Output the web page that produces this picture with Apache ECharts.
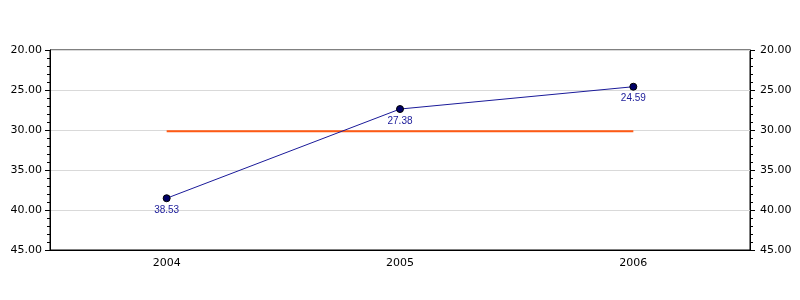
<!DOCTYPE html>
<html>
<head>
<meta charset="utf-8">
<script src="https://cdn.jsdelivr.net/npm/echarts@6/dist/echarts.min.js"></script>
<style>html,body{margin:0;padding:0;background:#fff}#c{width:800px;height:300px}</style>
</head>
<body>
<div id="c"></div>
<script>
const categories = ['2004', '2005', '2006'];
const values = [38.53, 27.38, 24.59];
const averageValues = [30.17, 30.17, 30.17];
const yMin = 20, yMax = 45, yStep = 5;

const chart = echarts.init(document.getElementById('c'), null, {renderer: 'canvas'});
const yAxisBase = {
  type: 'value', inverse: true, min: yMin, max: yMax, interval: yStep,
  axisLine: {show: true, lineStyle: {color: '#000', width: 1}},
  axisTick: {show: true, length: 5, lineStyle: {color: '#000'}},
  minorTick: {show: true, splitNumber: 5, length: 3, lineStyle: {color: '#000'}},
  axisLabel: {color: '#000', fontFamily: 'DejaVu Sans', fontSize: 11, formatter: v => v.toFixed(2)}
};
chart.setOption({
  animation: false,
  grid: {left: 50, right: 50, top: 50, bottom: 50, show: true, borderColor: '#000', borderWidth: 1},
  xAxis: {
    type: 'category', data: categories, boundaryGap: true,
    axisLine: {onZero: false, lineStyle: {color: '#000'}},
    axisTick: {alignWithLabel: true, length: 5, lineStyle: {color: '#000'}},
    axisLabel: {color: '#000', fontFamily: 'DejaVu Sans', fontSize: 11, margin: 8},
    splitLine: {show: false}
  },
  yAxis: [
    Object.assign({}, yAxisBase, {position: 'left',
      axisLabel: Object.assign({}, yAxisBase.axisLabel, {margin: 8}),
      splitLine: {show: true, lineStyle: {color: '#d9d9d9', width: 1}}}),
    Object.assign({}, yAxisBase, {position: 'right',
      axisLabel: Object.assign({}, yAxisBase.axisLabel, {margin: 10}),
      splitLine: {show: false}})
  ],
  series: [
    {
      type: 'line', data: averageValues, yAxisIndex: 0, showSymbol: false, symbol: 'none',
      lineStyle: {color: '#ff5a14', width: 2}, z: 2, silent: true
    },
    {
      type: 'line', data: values, yAxisIndex: 0,
      symbol: 'circle', symbolSize: 7,
      itemStyle: {color: '#000066', borderColor: '#000', borderWidth: 1},
      lineStyle: {color: '#1a1a99', width: 1},
      label: {show: true, position: 'bottom', distance: 3, color: '#1a1a99',
        fontFamily: 'Liberation Sans', fontSize: 10, formatter: p => p.value.toFixed(2)},
      z: 3
    }
  ]
});
</script>
</body>
</html>
